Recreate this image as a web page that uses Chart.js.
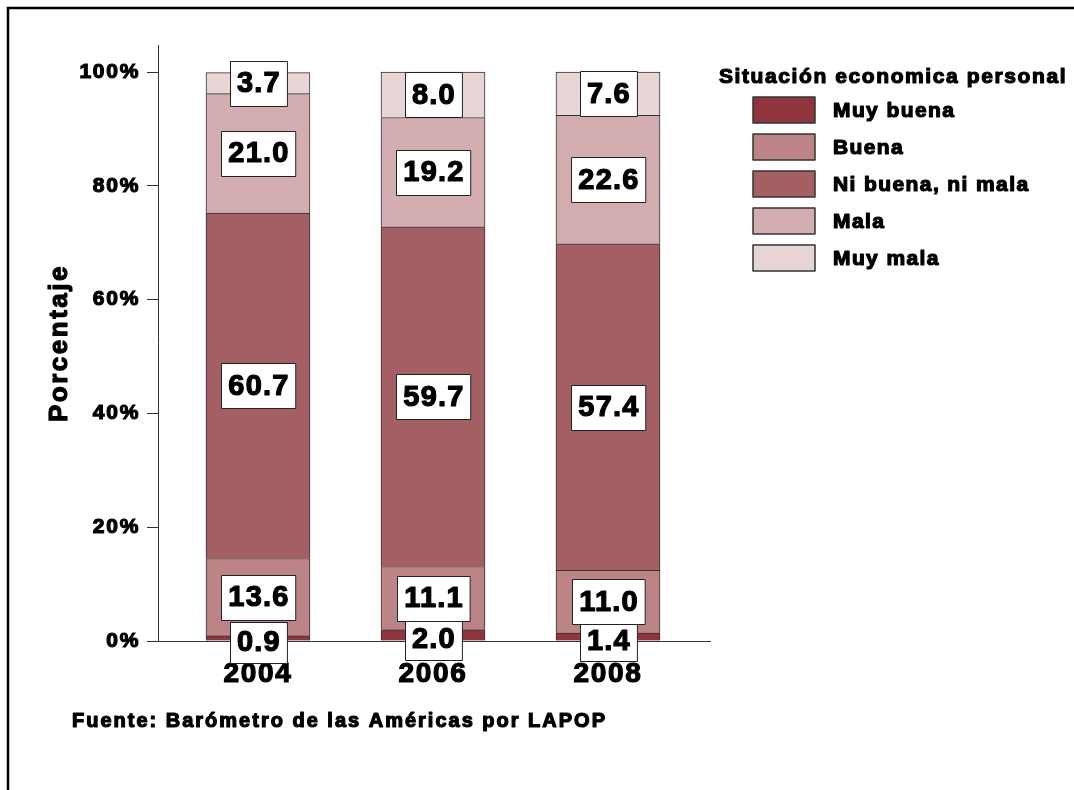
<!DOCTYPE html>
<html>
<head>
<meta charset="utf-8">
<script src="https://cdn.jsdelivr.net/npm/chart.js@4.4.1/dist/chart.umd.min.js"></script>
<style>
    html, body { margin: 0; padding: 0; background: #fff; }
    #chart_canvas { display: block; }
</style>
</head>
<body>
<canvas id="chart_canvas" width="1074" height="790"></canvas>
<script>
// values
const years = ['2004', '2006', '2008'];
const series_names = ['Muy buena', 'Buena', 'Ni buena, ni mala', 'Mala', 'Muy mala'];
const muy_buena = [0.9, 2.0, 1.4];
const buena = [13.6, 11.1, 11.0];
const ni_buena_ni_mala = [60.7, 59.7, 57.4];
const mala = [21.0, 19.2, 22.6];
const muy_mala = [3.7, 8.0, 7.6];
const y_ticks = [0, 20, 40, 60, 80, 100];
const legend_title = 'Situación economica personal';
const axis_title = 'Porcentaje';
const source_note = 'Fuente: Barómetro de las Américas por LAPOP';

const series_colors = ['#8e3540', '#bc8486', '#a45f64', '#d4adb0', '#e8d5d6'];
const font_family = "'Liberation Sans', Arial, sans-serif";
const tick_spacing = '1.7px';
const stroke_w = 1.2;

function set_spacing(chart) {
    chart.ctx.letterSpacing = tick_spacing;
}

// heavy text: fill plus a thin stroke, closer to the Arial Black look
function heavy_text(ctx, text, x, y, sp) {
    ctx.letterSpacing = sp + 'px';
    ctx.lineWidth = stroke_w;
    ctx.strokeStyle = '#000';
    ctx.lineJoin = 'round';
    ctx.strokeText(text, x, y);
    ctx.fillStyle = '#000';
    ctx.fillText(text, x, y);
}

const background_plugin = {
    id: 'background_frame',
    beforeUpdate: set_spacing,
    beforeDraw: (chart) => {
        const ctx = chart.ctx;
        set_spacing(chart);
        ctx.save();
        ctx.fillStyle = '#fff';
        ctx.fillRect(0, 0, chart.width, chart.height);
        ctx.strokeStyle = '#000';
        ctx.lineWidth = 2.5;
        ctx.beginPath();
        ctx.moveTo(8, chart.height + 5);
        ctx.lineTo(8, 8);
        ctx.lineTo(chart.width + 5, 8);
        ctx.stroke();
        ctx.restore();
    }
};

const value_box_plugin = {
    id: 'value_boxes',
    afterDraw: (chart) => {
        const ctx = chart.ctx;
        ctx.save();
        ctx.font = 'bold 29px ' + font_family;
        ctx.textAlign = 'center';
        ctx.textBaseline = 'middle';
        chart.data.datasets.forEach((ds, i) => {
            const meta = chart.getDatasetMeta(i);
            meta.data.forEach((bar, j) => {
                const text = ds.data[j].y.toFixed(1);
                ctx.letterSpacing = '1.2px';
                const w = ctx.measureText(text).width + 13;
                const h = i === 0 ? 41 : 45;
                let cy = (bar.y + bar.base) / 2;
                if (i === 0) cy += 4;
                const x0 = Math.round(bar.x - w / 2) + 0.5;
                const y0 = Math.round(cy - h / 2) + 0.5;
                ctx.fillStyle = '#fff';
                ctx.fillRect(x0, y0, w, h);
                ctx.strokeStyle = '#222';
                ctx.lineWidth = 1;
                ctx.strokeRect(x0, y0, w, h);
                heavy_text(ctx, text, bar.x + 1, cy + 1, 1.2);
            });
        });
        ctx.restore();
    }
};

const legend_plugin = {
    id: 'side_legend',
    afterDraw: (chart) => {
        const ctx = chart.ctx;
        ctx.save();
        ctx.textBaseline = 'middle';
        ctx.font = 'bold 21px ' + font_family;
        ctx.textAlign = 'center';
        heavy_text(ctx, legend_title, 893, 77, 1.6);
        ctx.textAlign = 'left';
        chart.data.datasets.forEach((ds, i) => {
            const cy = 110 + i * 37;
            ctx.fillStyle = ds.backgroundColor;
            ctx.fillRect(753, cy - 13, 62, 26);
            ctx.strokeStyle = '#333';
            ctx.lineWidth = 1.5;
            ctx.strokeRect(753, cy - 13, 62, 26);
            heavy_text(ctx, ds.label, 833, cy + 1, 1.4);
        });
        ctx.font = 'bold 20px ' + font_family;
        heavy_text(ctx, source_note, 72, 721, 2.0);

        // y axis title
        const area = chart.chartArea;
        ctx.font = 'bold 26px ' + font_family;
        ctx.textAlign = 'center';
        ctx.translate(60, (area.top + area.bottom) / 2);
        ctx.rotate(-Math.PI / 2);
        heavy_text(ctx, axis_title, 0, 0, 2.5);
        ctx.restore();
    }
};

function make_dataset(name, values, color) {
    return {
        label: name,
        data: values.map((v, j) => ({x: j, y: v})),
        backgroundColor: color,
        borderColor: '#333',
        borderWidth: 1,
        barThickness: 104
    };
}

const all_values = [muy_buena, buena, ni_buena_ni_mala, mala, muy_mala];
const datasets = all_values.map((vals, i) => make_dataset(series_names[i], vals, series_colors[i]));

const tick_font = (size) => ({ family: font_family, size: size, weight: 'bold' });

const config = {
    type: 'bar',
    data: { datasets: datasets },
    options: {
        responsive: false,
        animation: false,
        devicePixelRatio: 1,
        layout: { padding: { top: 45, left: 39, right: 364, bottom: 89 } },
        plugins: {
            legend: { display: false },
            tooltip: { enabled: false }
        },
        scales: {
            x: {
                type: 'linear',
                stacked: true,
                offset: false,
                min: -0.5714,
                max: 2.583,
                afterBuildTicks: (scale) => {
                    scale.ticks = years.map((y, j) => ({value: j}));
                },
                afterFit: (scale) => { scale.height = 60; },
                grid: { display: false, drawTicks: false, offset: false },
                border: { display: true, color: '#333', width: 1 },
                ticks: {
                    padding: 16,
                    color: '#000',
                    textStrokeColor: '#000',
                    textStrokeWidth: stroke_w,
                    font: tick_font(28),
                    callback: (v) => years[v]
                }
            },
            y: {
                stacked: true,
                min: 0,
                max: 104.75,
                afterBuildTicks: (scale) => {
                    scale.ticks = y_ticks.map(v => ({value: v}));
                },
                afterFit: (scale) => { scale.width = 119; },
                grid: {
                    drawOnChartArea: false,
                    drawTicks: true,
                    tickLength: 11,
                    color: '#333'
                },
                border: { display: true, color: '#333', width: 1 },
                ticks: {
                    padding: 7,
                    color: '#000',
                    textStrokeColor: '#000',
                    textStrokeWidth: stroke_w,
                    font: tick_font(21),
                    callback: (v) => v + '%'
                }
            }
        }
    },
    plugins: [background_plugin, value_box_plugin, legend_plugin]
};

new Chart(document.getElementById('chart_canvas').getContext('2d'), config);
</script>
</body>
</html>
